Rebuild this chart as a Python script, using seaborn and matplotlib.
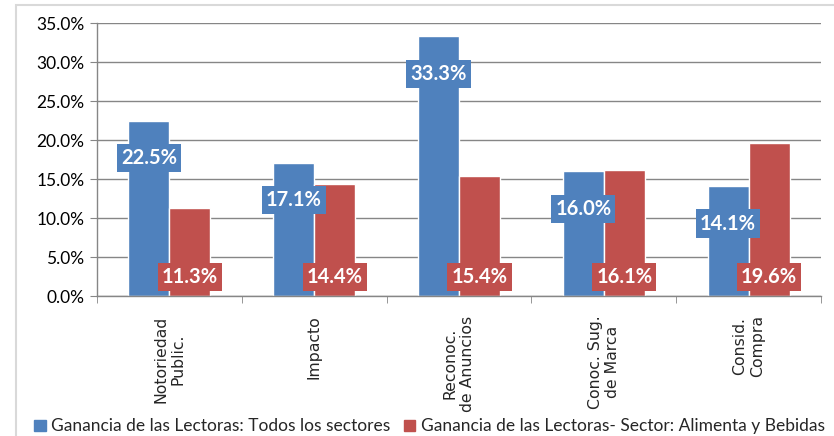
import pandas as pd
import matplotlib
matplotlib.use('Agg')
import matplotlib.pyplot as plt
import seaborn as sns
from matplotlib.ticker import PercentFormatter, FixedLocator
from matplotlib.patches import Rectangle, Patch

# datos del gráfico
categorias = ['Notoriedad\nPublic.', 'Impacto', 'Reconoc.\nde Anuncios',
              'Conoc. Sug.\nde Marca', 'Consid.\nCompra']
series = ['Ganancia de las Lectoras: Todos los sectores',
          'Ganancia de las Lectoras- Sector: Alimenta y Bebidas']
todos_sectores = [0.225, 0.171, 0.333, 0.160, 0.141]
alimentacion = [0.113, 0.144, 0.154, 0.161, 0.196]
colores = ['#4F81BD', '#C0504D']

df = pd.DataFrame({
    'categoria': categorias * 2,
    'serie': [series[0]] * len(categorias) + [series[1]] * len(categorias),
    'valor': todos_sectores + alimentacion,
})

sns.set_style('white')
plt.rcParams['font.family'] = ['Lato', 'DejaVu Sans']

fig = plt.figure(figsize=(8.34, 4.36), dpi=100)
ax = fig.add_axes([97 / 834, 1 - 296 / 436, 724 / 834, 273 / 436])

sns.barplot(data=df, x='categoria', y='valor', hue='serie', order=categorias,
            hue_order=series, palette=colores, saturation=1, width=0.566,
            ax=ax, legend=False)

ax.set_ylim(0, 0.35)
ax.set_xlim(-0.5, len(categorias) - 0.5)
ax.set_xlabel('')
ax.set_ylabel('')

# eje Y
ax.yaxis.set_major_locator(FixedLocator([i * 0.05 for i in range(8)]))
ax.yaxis.set_major_formatter(PercentFormatter(1, decimals=1))
ax.tick_params(axis='y', labelsize=12.5, length=5, color='#868686', left=True,
               pad=4, labelcolor='black')
ax.grid(axis='y', color='#868686', linewidth=1)
ax.set_axisbelow(True)

# eje X
ax.set_xticks(range(len(categorias)))
ax.set_xticklabels(categorias, rotation=90, family='DejaVu Sans', fontsize=11.3,
                   multialignment='center', va='top')
ax.tick_params(axis='x', length=0, pad=14)
ax.set_xticks([i + 0.5 for i in range(-1, len(categorias))], minor=True)
ax.tick_params(axis='x', which='minor', length=5, color='#868686', bottom=True)

for lado in ['top', 'right']:
    ax.spines[lado].set_visible(False)
for lado in ['left', 'bottom']:
    ax.spines[lado].set_color('#868686')
    ax.spines[lado].set_linewidth(1)

# etiquetas de valores
estilo = dict(ha='center', va='center', color='white', fontweight='bold',
              fontsize=14.5, textcoords='offset points')
for barra, v in zip(ax.containers[0], todos_sectores):
    x = barra.get_x() + barra.get_width() / 2
    ax.annotate(f'{v * 100:.1f}%', (x, v), xytext=(0, -27),
                bbox=dict(boxstyle='square,pad=0.2', fc=colores[0], ec='none'), **estilo)
for barra, v in zip(ax.containers[1], alimentacion):
    x = barra.get_x() + barra.get_width() / 2
    ax.annotate(f'{v * 100:.1f}%', (x, 0), xytext=(0, 13.5),
                bbox=dict(boxstyle='square,pad=0.2', fc=colores[1], ec='none'), **estilo)

# marco exterior
fig.patches.append(Rectangle((16 / 834, -0.05), 1.1, 1.05 - 5 / 436,
                             transform=fig.transFigure, fill=False,
                             ec='#D9D9D9', lw=1.5, zorder=-1))

# leyenda
manejadores = [Patch(color=c, label=s) for c, s in zip(colores, series)]
fig.legend(handles=manejadores, loc='center', bbox_to_anchor=(0.515, 0.022),
           ncol=2, frameon=False, fontsize=12.5, handlelength=0.65, handleheight=0.65,
           handletextpad=0.3, columnspacing=0.8, borderaxespad=0)

fig.savefig('out.png', dpi=100)
